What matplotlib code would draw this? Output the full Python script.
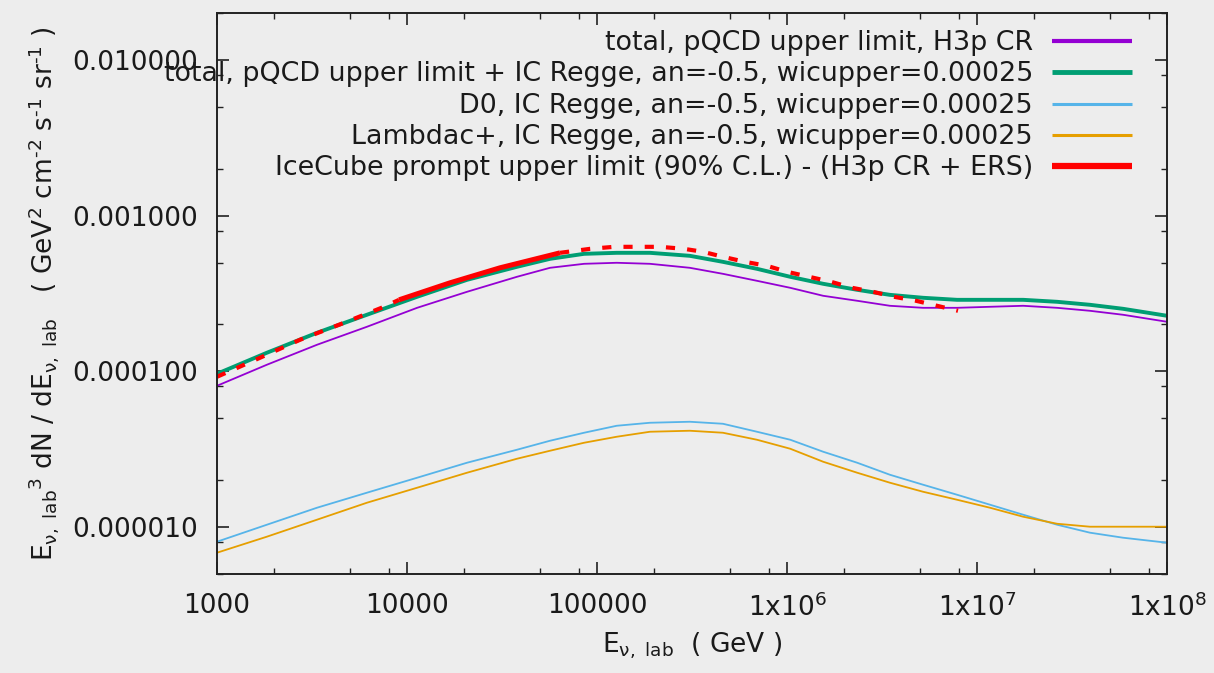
import matplotlib
matplotlib.use("Agg")
import matplotlib.pyplot as plt
from matplotlib.ticker import LogLocator, FixedLocator, FixedFormatter, NullFormatter, FuncFormatter
from matplotlib.lines import Line2D

plt.rcParams['font.family'] = ['DejaVu Sans']
plt.rcParams['mathtext.fontset'] = 'dejavusans'

# ---- data: E^3 dN/dE (GeV^2 cm^-2 s^-1 sr^-1) vs E (GeV) ----
E_grid = [1.0e3, 1.83e3, 3.36e3, 6.15e3, 1.13e4, 2.07e4, 3.79e4, 5.66e4, 8.55e4,
          1.27e5, 1.90e5, 3.08e5, 4.60e5, 6.95e5, 1.04e6, 1.55e6, 2.34e6, 3.48e6,
          5.20e6, 7.85e6, 1.17e7, 1.75e7, 2.64e7, 3.93e7, 5.87e7, 1.0e8]

flux_total_h3p = [8.08e-5, 1.103e-4, 1.482e-4, 1.933e-4, 2.559e-4, 3.243e-4, 4.048e-4, 4.624e-4,
                  4.905e-4, 4.98e-4, 4.905e-4, 4.624e-4, 4.23e-4, 3.815e-4, 3.44e-4, 3.057e-4,
                  2.84e-4, 2.637e-4, 2.559e-4, 2.559e-4, 2.598e-4, 2.637e-4, 2.559e-4, 2.449e-4,
                  2.309e-4, 2.082e-4]

flux_total_ic = [9.65e-5, 1.317e-4, 1.769e-4, 2.309e-4, 3.012e-4, 3.871e-4, 4.692e-4, 5.28e-4,
                 5.685e-4, 5.77e-4, 5.77e-4, 5.52e-4, 5.05e-4, 4.555e-4, 4.048e-4, 3.65e-4,
                 3.34e-4, 3.10e-4, 2.968e-4, 2.88e-4, 2.88e-4, 2.88e-4, 2.797e-4, 2.676e-4,
                 2.522e-4, 2.275e-4]

flux_d0 = [8.06e-6, 1.036e-5, 1.332e-5, 1.663e-5, 2.075e-5, 2.591e-5, 3.139e-5, 3.586e-5,
           4.036e-5, 4.475e-5, 4.678e-5, 4.748e-5, 4.609e-5, 4.096e-5, 3.639e-5, 3.048e-5,
           2.591e-5, 2.169e-5, 1.872e-5, 1.614e-5, 1.393e-5, 1.201e-5, 1.036e-5, 9.21e-6,
           8.55e-6, 7.94e-6]

flux_lambdac = [6.85e-6, 8.68e-6, 1.116e-5, 1.434e-5, 1.790e-5, 2.235e-5, 2.748e-5, 3.093e-5,
                3.481e-5, 3.804e-5, 4.096e-5, 4.157e-5, 4.036e-5, 3.639e-5, 3.186e-5, 2.629e-5,
                2.235e-5, 1.928e-5, 1.687e-5, 1.499e-5, 1.332e-5, 1.166e-5, 1.051e-5, 1.006e-5,
                1.006e-5, 1.006e-5]

E_icecube = [1.0e3, 1.684e3, 2.734e3, 4.66e3, 7.57e3, 9.08e3, 1.684e4, 3.087e4, 6.39e4,
             9.19e4, 1.229e5, 1.624e5, 2.146e5, 2.871e5, 3.613e5, 4.605e5, 6.01e5, 7.847e5,
             1.0e6, 1.306e6, 1.704e6, 2.198e6, 2.835e6, 3.658e6, 4.774e6, 6.16e6, 7.943e6]
flux_icecube = [9.23e-5, 1.223e-4, 1.595e-4, 2.05e-4, 2.598e-4, 2.88e-4, 3.704e-4, 4.624e-4, 5.77e-4,
                6.12e-4, 6.305e-4, 6.305e-4, 6.305e-4, 6.12e-4, 5.857e-4, 5.44e-4, 5.05e-4, 4.76e-4,
                4.36e-4, 4.048e-4, 3.76e-4, 3.44e-4, 3.243e-4, 3.012e-4, 2.84e-4, 2.637e-4, 2.449e-4]
# energy range where the IceCube limit is drawn solid
icecube_solid_range = (9.08e3, 6.39e4)

labels = [
    "total, pQCD upper limit, H3p CR",
    "total, pQCD upper limit + IC Regge, an=-0.5, wicupper=0.00025",
    "D0, IC Regge, an=-0.5, wicupper=0.00025",
    "Lambdac+, IC Regge, an=-0.5, wicupper=0.00025",
    "IceCube prompt upper limit (90% C.L.) - (H3p CR + ERS)",
]
x_tick_values = [1e3, 1e4, 1e5, 1e6, 1e7, 1e8]
x_tick_labels = ["1000", "10000", "100000", r"1x10$^{6}$", r"1x10$^{7}$", r"1x10$^{8}$"]
y_tick_values = [1e-5, 1e-4, 1e-3, 1e-2]

colors = ["#9400d3", "#009e73", "#56b4e9", "#e69f00", "#ff0000"]
widths = [1.3, 2.8, 1.3, 1.3, 3.6]

bg = "#ededed"
fig = plt.figure(figsize=(12.14, 6.73), dpi=100, facecolor=bg)
ax = fig.add_axes([217 / 1214, 99 / 673, 950 / 1214, 561 / 673], facecolor=bg)

ax.set_xscale("log")
ax.set_yscale("log")
ax.set_xlim(1e3, 1e8)
ax.set_ylim(5e-6, 2e-2)

ax.plot(E_grid, flux_total_h3p, color=colors[0], lw=widths[0])
ax.plot(E_grid, flux_total_ic, color=colors[1], lw=widths[1])
ax.plot(E_grid, flux_d0, color=colors[2], lw=widths[2])
ax.plot(E_grid, flux_lambdac, color=colors[3], lw=widths[3])

lo, hi = icecube_solid_range
pre = [(e, f) for e, f in zip(E_icecube, flux_icecube) if e <= lo]
mid = [(e, f) for e, f in zip(E_icecube, flux_icecube) if lo <= e <= hi]
post = [(e, f) for e, f in zip(E_icecube, flux_icecube) if e >= hi]
dash = (0, (2.2, 2.9))
for seg, ls in ((pre, dash), (post, dash), (mid, "-")):
    xs, ys = zip(*seg)
    ax.plot(xs, ys, color=colors[4], lw=widths[4] if ls == "-" else 3.0, linestyle=ls,
            solid_capstyle="butt", dash_capstyle="butt")

# axes styling
for s in ax.spines.values():
    s.set_color("#222222")
    s.set_linewidth(1.4)

ax.xaxis.set_major_locator(FixedLocator(x_tick_values))
ax.xaxis.set_major_formatter(FixedFormatter(x_tick_labels))
ax.xaxis.set_minor_locator(LogLocator(base=10, subs=[2, 5, 8]))
ax.xaxis.set_minor_formatter(NullFormatter())
ax.yaxis.set_major_locator(FixedLocator(y_tick_values))
ax.yaxis.set_major_formatter(FuncFormatter(lambda v, p: "%.6f" % v))
ax.yaxis.set_minor_locator(LogLocator(base=10, subs=[2, 5, 8]))
ax.yaxis.set_minor_formatter(NullFormatter())

ax.tick_params(which="both", direction="in", top=True, right=True, color="#222222",
               labelsize=19, labelcolor="#1a1a1a")
ax.tick_params(which="major", length=8.5, width=1.2)
ax.tick_params(which="minor", length=4.3, width=1.0)
ax.tick_params(axis="y", pad=14)
ax.tick_params(axis="x", pad=14)

ax.set_xlabel(r"E$_{\mathrm{\nu,\ lab}}$  ( GeV )", fontsize=19, color="#1a1a1a", labelpad=6)
ax.set_ylabel(r"E$_{\mathrm{\nu,\ lab}}$$^{3}$ dN / dE$_{\mathrm{\nu,\ lab}}$   "
              r"( GeV$^{2}$ cm$^{\text{-2}}$ s$^{\text{-1}}$ sr$^{\text{-1}}$ )",
              fontsize=19, color="#1a1a1a", labelpad=8)

# key, text right-aligned with line samples on the right
row_px = [41, 72, 104, 135, 166]
key_widths = [3.0, 3.5, 2.2, 2.2, 4.5]
for lab, c, w, yp in zip(labels, colors, key_widths, row_px):
    yf = (574 - yp) / 561
    ax.text((1033 - 217) / 950, yf - 9 / 561, lab, transform=ax.transAxes, ha="right",
            va="baseline", fontsize=19.4, color="#1a1a1a", clip_on=False)
    ax.add_line(Line2D([(1052 - 217) / 950, (1132 - 217) / 950], [yf, yf],
                       transform=ax.transAxes, color=c, lw=w, clip_on=False,
                       solid_capstyle="butt"))

fig.savefig("out.png", dpi=100, facecolor=bg)
